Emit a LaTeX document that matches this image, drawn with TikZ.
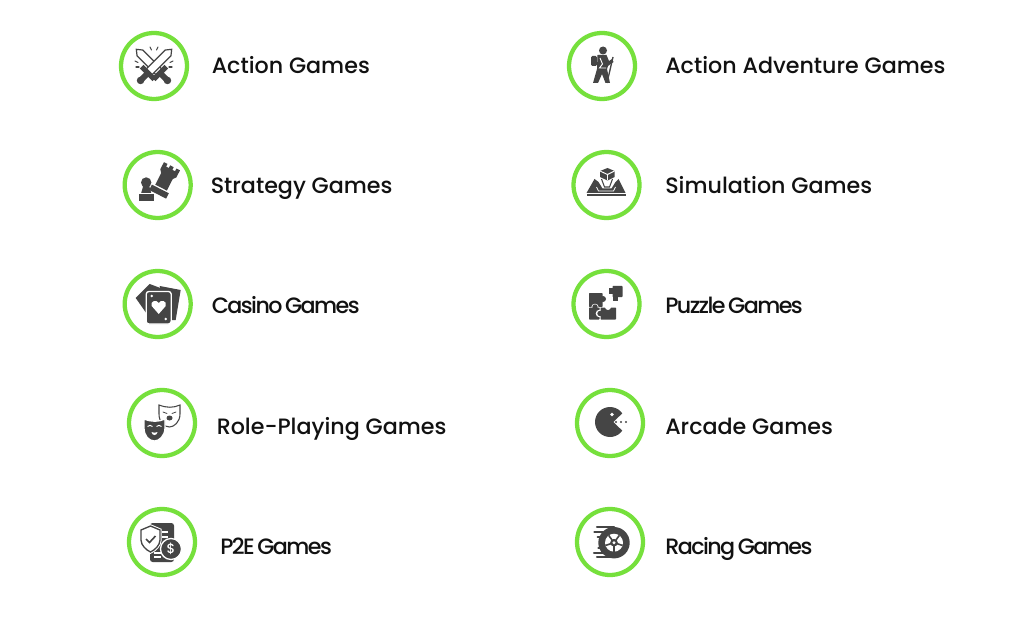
\documentclass[tikz,border=0pt]{standalone}
\usepackage{fontspec}
\setmainfont{Poppins Medium}
\newfontfamily\tightfont{Poppins Medium}[LetterSpace=-7,WordSpace=0.6]
\definecolor{ringgreen}{HTML}{76E03C}
\definecolor{icongray}{HTML}{454545}
\definecolor{textblack}{HTML}{111111}
\tikzset{
    ring/.style = {circle, draw = ringgreen, line width = 3.2pt, fill = white, minimum size = 49.5pt, inner sep = 0pt},
    label/.style = {anchor = base west, inner sep = 0pt, text = textblack, font = \fontsize{16.65}{20}\selectfont},
    tightlabel/.style = {label, font = \fontsize{16.65}{20}\selectfont\tightfont},
    thin ink/.style = {draw = icongray, line width = 0.8pt, line cap = round},
    speed/.style = {draw = icongray, line width = 1.6pt, line cap = round},
}
\newcommand{\swordshape}{
    \draw [icongray, fill = white, line width = 0.9pt] (0, -25) -- (4, -20) -- (4, 8) -- (-4, 8) -- (-4, -20) -- cycle;
    \fill [icongray] (-9, 6) rectangle (9, 11);
    \fill [icongray] (-3, 10) rectangle (3, 18);
    \fill [icongray] (0, 19) circle [radius = 3.8];
}
\newcommand{\maskshape}{(-18, -4) .. controls (-10, -1) and (-4, -1) .. (3, -4) -- (3, 5) .. controls (3, 13) and (-3, 18) .. (-7.5, 18) .. controls (-13, 18) and (-18, 13) .. (-18, 5) -- cycle}
\begin{document}
\begin{tikzpicture}[x = 0.75pt, y = -0.75pt]
    \useasboundingbox (0, 0) rectangle (1024, 620);
    \fill [white] (0, 0) rectangle (1024, 620);

    \node [ring] (actionring) at (154, 66) {};
    \node [ring] (strategyring) at (157.7, 185) {};
    \node [ring] (casinoring) at (157.7, 304) {};
    \node [ring] (roleplayring) at (162, 423) {};
    \node [ring] (ptoering) at (162, 542) {};
    \node [ring] (adventurering) at (602, 66) {};
    \node [ring] (simulationring) at (606.5, 185) {};
    \node [ring] (puzzlering) at (606.5, 304) {};
    \node [ring] (arcadering) at (610, 423) {};
    \node [ring] (racingring) at (610, 542) {};

    \node [label] (actionlabel) at (211.5, 74) {Action Games};
    \node [label] (strategylabel) at (210.5, 194) {Strategy Games};
    \node [tightlabel] (casinolabel) at (211.5, 313) {Casino Games};
    \node [label] (roleplaylabel) at (216.5, 434) {Role-Playing Games};
    \node [tightlabel] (ptoelabel) at (220, 554) {P2E Games};
    \node [label] (adventurelabel) at (665, 74) {Action Adventure Games};
    \node [label] (simulationlabel) at (665, 194) {Simulation Games};
    \node [tightlabel] (puzzlelabel) at (665, 313) {Puzzle Games};
    \node [label] (arcadelabel) at (665, 434) {Arcade Games};
    \node [tightlabel] (racinglabel) at (665, 554) {Racing Games};

    % swords
    \begin{scope}[shift = {(actionring)}]
        \begin{scope}[yshift = -0.75pt, rotate = 45]
            \swordshape
        \end{scope}
        \begin{scope}[yshift = -0.75pt, rotate = -45]
            \swordshape
        \end{scope}
        \draw [thin ink] (-4, -19) -- (-2.5, -16);
        \draw [thin ink] (4, -19) -- (2.5, -16);
        \draw [thin ink] (-19, -5) -- (-16, -3.5);
        \draw [thin ink] (-18, 1) -- (-15, 1);
        \draw [thin ink] (19, -5) -- (16, -3.5);
        \draw [thin ink] (18, 1) -- (15, 1);
    \end{scope}

    % chess
    \begin{scope}[shift = {(strategyring)}]
        \fill [icongray] (-11.5, -2.5) circle [radius = 5.2];
        \fill [icongray] (-14.5, 1) -- (-8.5, 1) -- (-6.5, 8) -- (-16.5, 8) -- cycle;
        \fill [icongray] (-18.5, 9.5) rectangle (-4, 16);
        \begin{scope}[shift = {(7, -4.5)}, rotate = -27]
            \fill [icongray] (-9, -16) -- (-5, -16) -- (-5, -13) -- (-2, -13) -- (-2, -16) -- (2, -16) -- (2, -13) -- (5, -13) -- (5, -16) -- (9, -16) -- (9, -8) -- (6.5, -5) -- (6.5, 8) -- (-6.5, 8) -- (-6.5, -5) -- (-9, -8) -- cycle;
            \fill [icongray] (-9.5, 9.5) rectangle (9.5, 15.5);
        \end{scope}
    \end{scope}

    % cards
    \begin{scope}[shift = {(casinoring)}]
        \fill [icongray] (-22, -6) -- (-8, -20) -- (8, -14) -- (-8, 14) -- cycle;
        \fill [icongray] (2, -18) -- (23, -14) -- (18, 16) -- (8, 16) -- cycle;
        \draw [icongray, fill = icongray, rounded corners = 2pt, draw = white, line width = 1pt] (-11.5, -12.5) rectangle (13.5, 20);
        \fill [white] (1, 10) -- (-6, 2) .. controls (-8, -3) and (-1, -5) .. (1, -1) .. controls (3, -5) and (10, -3) .. (8, 2) -- cycle;
        \fill [white] (-6, -8) circle [radius = 1.3];
        \fill [white] (8, 15) circle [radius = 1.3];
    \end{scope}

    % masks
    \begin{scope}[shift = {(roleplayring)}]
        \begin{scope}[shift = {(15, -14)}]
            \draw [icongray, fill = white, line width = 0.8pt] \maskshape;
            \draw [thin ink, line width = 0.6pt] (-14, 3) -- (-10, 4.5);
            \draw [thin ink, line width = 0.6pt] (-1, 3) -- (-5, 4.5);
            \fill [icongray] (-7.5, 9) ellipse [x radius = 3, y radius = 2.5];
        \end{scope}
        \draw [white, fill = icongray, line width = 1pt] \maskshape;
        \draw [white, line width = 0.7pt] (-14.5, 3.5) .. controls (-13, 2) and (-11, 2) .. (-9.5, 3.5);
        \draw [white, line width = 0.7pt] (-5.5, 3.5) .. controls (-4, 2) and (-2, 2) .. (-0.5, 3.5);
        \fill [white] (-10.5, 9) .. controls (-9, 10) and (-6, 10) .. (-4.5, 9) .. controls (-5, 13) and (-10, 13) .. (-10.5, 9) -- cycle;
    \end{scope}

    % phone, shield and coin
    \begin{scope}[shift = {(ptoering)}]
        \fill [icongray, rounded corners = 2pt] (-12, -19) rectangle (12, 20);
        \draw [white, line width = 1.2pt] (0, -10) -- (6, -10);
        \draw [white, line width = 1.2pt] (0, -5) -- (6, -5);
        \draw [white, line width = 1.2pt] (-8, 11) -- (-1, 11);
        \draw [white, line width = 1.2pt] (-8, 15) -- (-1, 15);
        \draw [white, line width = 2.5pt] (-21, -12) -- (-11.5, -16) -- (-2, -12) -- (-2, -2) .. controls (-2, 3) and (-7, 8) .. (-11.5, 10) .. controls (-16, 8) and (-21, 3) .. (-21, -2) -- cycle;
        \draw [icongray, fill = white, line width = 1pt] (-21, -12) -- (-11.5, -16) -- (-2, -12) -- (-2, -2) .. controls (-2, 3) and (-7, 8) .. (-11.5, 10) .. controls (-16, 8) and (-21, 3) .. (-21, -2) -- cycle;
        \draw [icongray, line width = 1.2pt] (-16, -3) -- (-12.5, 0.5) -- (-6.5, -6);
        \draw [white, fill = icongray, line width = 1pt] (9, 7) circle [radius = 10.5];
        \node [text = white, inner sep = 0pt, font = \fontsize{10}{10}\selectfont] (coinsign) at (9, 7) {\$};
    \end{scope}

    % hiker
    \begin{scope}[shift = {(adventurering)}]
        \fill [icongray] (1, -15.5) circle [radius = 4];
        \fill [icongray, rounded corners = 1pt] (-11, -10) rectangle (-5, 0);
        \fill [icongray] (-4.5, -11) -- (4.5, -11) -- (7, -5) -- (10, -7) -- (11.5, -4) -- (6, 0) -- (5, 3) -- (8, 17) -- (3.5, 17) -- (0, 8) -- (-4, 17) -- (-9, 17) -- (-5, 3) -- cycle;
        \draw [white, line width = 0.7pt] (-2, -8) -- (0.5, -2) -- (-2.5, 2) -- (4, 2);
        \draw [icongray, line width = 1pt] (11, -9) -- (5, 17);
    \end{scope}

    % simulation
    \begin{scope}[shift = {(simulationring)}]
        \fill [icongray] (-12, -6) -- (-20, 8) -- (19, 8) -- (12, -6) -- (9, -3) -- (5, 3.5) -- (-4, 3.5) -- (-8, -3) -- cycle;
        \draw [white, line width = 0.6pt] (-10, 2) -- (-8, 6) -- (7, 6) -- (9, 2);
        \draw [icongray, line width = 0.8pt] (-5, -6) -- (-2, 2) -- (3, 2) -- (6, -6);
        \fill [icongray] (-20, 9.5) rectangle (19, 11);
        \fill [icongray] (1, -17) -- (8, -14) -- (8, -8) -- (1, -4.5) -- (-6.5, -8) -- (-6.5, -14) -- cycle;
        \draw [white, line width = 0.7pt] (-6.5, -14) -- (1, -10.5) -- (8, -14);
        \draw [white, line width = 0.7pt] (1, -10.5) -- (1, -4.5);
    \end{scope}

    % puzzle
    \begin{scope}[shift = {(puzzlering)}]
        \fill [icongray, rounded corners = 0.5pt] (-17.5, -11) rectangle (-4, 3);
        \fill [icongray] (-3.5, -5) circle [radius = 3];
        \fill [white] (-11.5, 3.5) circle [radius = 3.8];
        \fill [icongray, rounded corners = 0.5pt] (-17.5, 3.5) rectangle (-7, 15.5);
        \fill [icongray] (-11.5, 3) circle [radius = 2.7];
        \fill [white] (-7, 9.5) circle [radius = 3.8];
        \fill [icongray, rounded corners = 0.5pt] (-6, 3.5) rectangle (9.5, 15.5);
        \fill [icongray] (-6.5, 9.5) circle [radius = 2.7];
        \fill [white] (1.5, 3) circle [radius = 3];
        \fill [icongray, rounded corners = 0.5pt] (6, -18) rectangle (16, -7);
        \fill [icongray] (2.5, -15.5) rectangle (7, -10);
        \fill [icongray] (6, -8) rectangle (11, -3);
    \end{scope}

    % pacman
    \begin{scope}[shift = {(arcadering)}]
        \fill [icongray] (0, -1) circle [radius = 15];
        \fill [white] (3.5, -1) -- (16, -13) -- (16, 11) -- cycle;
        \fill [white] (2, -8.5) circle [radius = 1.8];
        \fill [icongray] (6, -1) circle [radius = 1.1];
        \fill [icongray] (11, -1) circle [radius = 1.1];
        \fill [icongray] (16, -1) circle [radius = 1.1];
    \end{scope}

    % tire
    \begin{scope}[shift = {(racingring)}]
        \fill [icongray] (4, 0.7) circle [radius = 15.7];
        \draw [speed] (-13, -15) -- (4, -15);
        \draw [speed] (-15.7, -10) -- (-7, -10);
        \draw [speed] (-12.3, -4.7) -- (-8, -4.7);
        \draw [speed] (-11.7, 6.3) -- (-8, 6.3);
        \draw [speed] (-16, 11) -- (-6, 11);
        \draw [speed] (-13, 15.4) -- (4, 15.4);
        \fill [white] (4, 0.7) circle [radius = 9];
        \foreach \spokeangle in {18, 90, 162, 234, 306} {
            \draw [icongray, line width = 1.2pt] (4, 0.7) -- ++(\spokeangle:9);
        }
        \fill [icongray] (4, 0.7) circle [radius = 3.8];
        \fill [white] (4, 0.7) circle [radius = 1.6];
    \end{scope}
\end{tikzpicture}
\end{document}
